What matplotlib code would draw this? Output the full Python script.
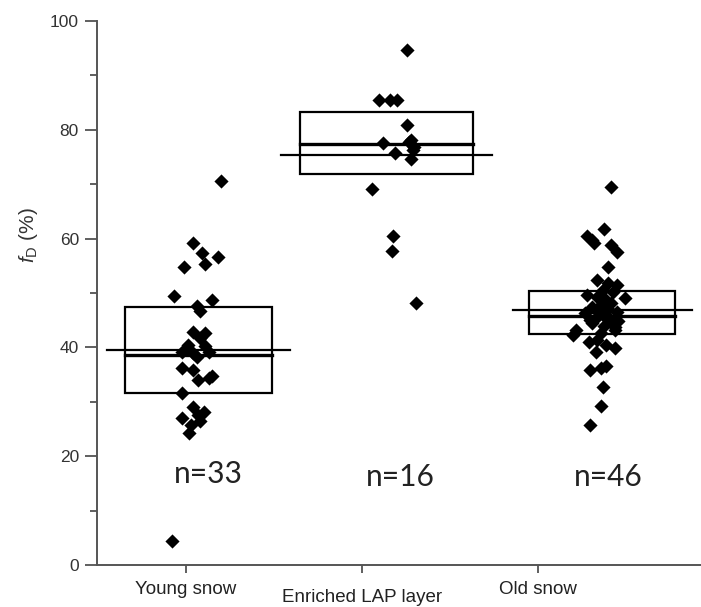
import matplotlib
matplotlib.use("Agg")
import matplotlib.pyplot as plt
from matplotlib.ticker import MultipleLocator
import numpy as np

plt.rcParams["font.family"] = ["Liberation Sans", "DejaVu Sans"]
plt.rcParams["mathtext.fontset"] = "custom"
plt.rcParams["mathtext.rm"] = "Liberation Sans"
plt.rcParams["mathtext.it"] = "Liberation Sans:italic"

categories = ["Young snow", "Enriched LAP layer", "Old snow"]
counts = ["n=33", "n=16", "n=46"]

# fD values (%) per group, with the horizontal scatter of each point
young = [70.5, 59.2, 57.3, 56.6, 55.3, 54.7, 49.4, 48.7, 47.6, 46.6, 42.9, 42.7, 41.7,
         40.4, 40.3, 39.2, 38.9, 39.2, 38.2, 36.3, 35.8, 34.0, 34.7, 34.3, 31.6, 29.1,
         28.2, 27.6, 27.0, 26.5, 25.7, 24.2, 4.4]
young_dx = [0.20, 0.04, 0.09, 0.18, 0.11, -0.01, -0.07, 0.15, 0.06, 0.08, 0.04, 0.11, 0.08,
            0.01, 0.11, -0.02, 0.04, 0.13, 0.06, -0.02, 0.04, 0.07, 0.15, 0.13, -0.02, 0.04,
            0.10, 0.07, -0.02, 0.08, 0.03, 0.02, -0.08]

enriched = [94.7, 85.5, 85.5, 85.5, 80.9, 78.2, 77.5, 77.8, 76.9, 76.2, 75.7, 74.7,
            69.1, 60.5, 57.7, 48.2]
enriched_dx = [0.26, 0.10, 0.16, 0.20, 0.26, 0.28, 0.12, 0.27, 0.30, 0.29, 0.19, 0.28,
               0.06, 0.18, 0.17, 0.31]

old = [69.4, 61.7, 60.4, 59.8, 59.1, 58.8, 57.6, 54.8, 52.4, 51.8, 51.5, 50.5, 50.2,
       49.6, 49.3, 49.0, 48.8, 48.2, 47.8, 47.5, 47.0, 46.8, 46.5, 46.3, 46.0, 45.6,
       45.3, 45.0, 44.8, 44.4, 44.0, 43.8, 43.2, 43.2, 42.6, 42.3, 41.4, 41.0, 40.5,
       39.8, 39.2, 36.6, 36.2, 35.8, 32.8, 29.2, 25.7]
old_dx = [2.42, 2.38, 2.28, 2.31, 2.32, 2.42, 2.45, 2.40, 2.34, 2.40, 2.45, 2.37, 2.43,
          2.28, 2.34, 2.50, 2.39, 2.42, 2.36, 2.31, 2.40, 2.33, 2.45, 2.27, 2.37, 2.34,
          2.41, 2.30, 2.46, 2.31, 2.38, 2.44, 2.22, 2.44, 2.36, 2.20, 2.34, 2.29, 2.39,
          2.44, 2.33, 2.39, 2.36, 2.30, 2.37, 2.36, 2.30]

# box: bottom, top, median; mean line
box_low = [31.6, 71.9, 42.5]
box_high = [47.5, 83.2, 50.4]
box_median = [38.6, 77.3, 45.8]
box_mean = [39.6, 75.3, 46.8]

fig = plt.figure(figsize=(7.01, 6.07), dpi=100)
ax = fig.add_axes([0.1384, 0.0692, 0.8616, 0.8962])

centers = [1.071, 2.139, 3.369]
box_w = [0.835, 0.983, 0.83]
mean_w = [1.04, 1.20, 1.02]
for i in range(3):
    c = centers[i]
    ax.add_patch(plt.Rectangle((c - box_w[i] / 2, box_low[i]), box_w[i],
                               box_high[i] - box_low[i], fill=False, ec="black", lw=1.6, zorder=2))
    ax.plot([c - box_w[i] / 2, c + box_w[i] / 2], [box_median[i]] * 2, color="black", lw=2.4, zorder=2)
    ax.plot([c - mean_w[i] / 2, c + mean_w[i] / 2], [box_mean[i]] * 2, color="black", lw=1.6, zorder=2)

groups = [(young, young_dx, 1), (enriched, enriched_dx, 2), (old, old_dx, 1)]
for vals, dx, base in groups:
    ax.scatter(np.array(dx) + base, vals, marker="D", s=52, color="black", lw=0, zorder=3)

n_pos = [(1.125, 16.7), (2.22, 16.2), (3.40, 16.2)]
for (x, y), t in zip(n_pos, counts):
    ax.text(x, y, t, ha="center", va="center", fontsize=21.5, color="#222222",
            family=["Lato", "DejaVu Sans"])

ax.set_xlim(0.494, 3.93)
ax.set_ylim(0, 100)
ax.yaxis.set_major_locator(MultipleLocator(20))
ax.yaxis.set_minor_locator(MultipleLocator(10))
ax.set_xticks([1, 2, 3])
ax.set_xticklabels([])
ax.tick_params(axis="y", which="major", length=9, width=1.2, color="#444444",
               labelsize=12.5, labelcolor="#333333", pad=4)
ax.tick_params(axis="y", which="minor", length=5, width=1.2, color="#444444")
ax.tick_params(axis="x", length=6, width=1.2, color="#444444")
for s in ["top", "right"]:
    ax.spines[s].set_visible(False)
for s in ["left", "bottom"]:
    ax.spines[s].set_color("#555555")
    ax.spines[s].set_linewidth(1.4)

label_y = [-0.045, -0.06, -0.045]
for x, lab, ly in zip([1, 2, 3], categories, label_y):
    ax.text(x, ly, lab, transform=ax.get_xaxis_transform(), ha="center", va="center",
            fontsize=13.5, color="#222222")

ax.set_ylabel(r"$f_{\mathrm{D}}$ (%)", fontsize=15, color="#333333")
ax.yaxis.set_label_coords(-0.095, 0.607)

fig.savefig("out.png", dpi=100)
